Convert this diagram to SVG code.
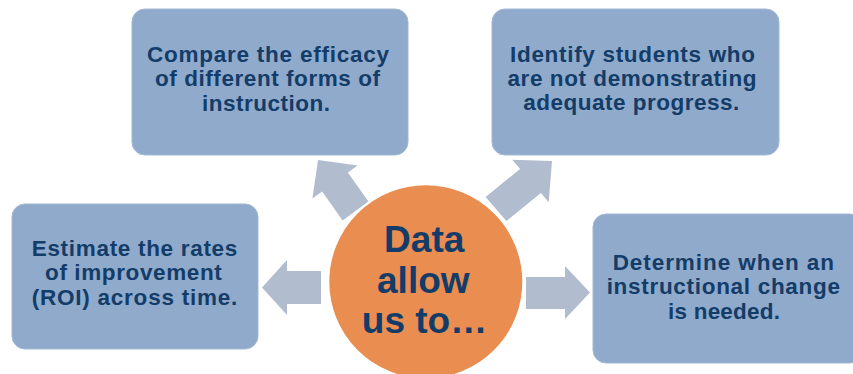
<svg xmlns="http://www.w3.org/2000/svg" width="853" height="374" viewBox="0 0 853 374">
<style>
.box{fill:#8FAACB;stroke:#A3B8D4;stroke-width:1}
.arr{fill:#B1BDCF}
.t{font-family:"Liberation Sans",Arial,sans-serif;font-weight:bold;font-size:22.5px;fill:#133C68;text-anchor:middle}
.c{font-family:"Liberation Sans",Arial,sans-serif;font-weight:bold;font-size:37px;fill:#133C68;text-anchor:middle}
</style>
<rect width="853" height="374" fill="#ffffff"/>
<g id="connectors">
<polygon class="arr" points="318,160 357.6,165.4 347.9,172.5 368.4,201.5 342.6,220.5 322.1,191.5 312.4,198.6"/>
<polygon class="arr" points="552,161 548.7,202.3 540.9,193.1 506.4,221.1 485.6,196.9 520.1,168.9 512.3,159.7"/>
<polygon class="arr" points="262,287.5 287,260 287,271 321,271 321,304 287,304 287,315"/>
<polygon class="arr" points="590,292.5 565,266 565,277 526,277 526,309 565,309 565,319"/>
</g>
<g id="node-compare">
<rect class="box" x="132" y="9" width="276" height="146" rx="13"/>
<text class="t" x="268" y="61.5" textLength="242" lengthAdjust="spacing">Compare the efficacy</text>
<text class="t" x="267.5" y="86" textLength="225" lengthAdjust="spacing">of different forms of</text>
<text class="t" x="266" y="110.5" textLength="128" lengthAdjust="spacing">instruction.</text>
</g>
<g id="node-identify">
<rect class="box" x="492" y="9" width="287" height="146" rx="13"/>
<text class="t" x="632.5" y="62" textLength="245" lengthAdjust="spacing">Identify students who</text>
<text class="t" x="632" y="86" textLength="249" lengthAdjust="spacing">are not demonstrating</text>
<text class="t" x="631.3" y="110" textLength="216" lengthAdjust="spacing">adequate progress.</text>
</g>
<g id="node-estimate">
<rect class="box" x="12" y="204" width="246" height="145" rx="13"/>
<text class="t" x="134.5" y="255.5" textLength="205.6" lengthAdjust="spacing">Estimate the rates</text>
<text class="t" x="133.4" y="280" textLength="176.7" lengthAdjust="spacing">of improvement</text>
<text class="t" x="134.5" y="305" textLength="205.6" lengthAdjust="spacing">(ROI) across time.</text>
</g>
<g id="node-determine">
<rect class="box" x="593" y="214" width="270" height="149" rx="13"/>
<text class="t" x="723.3" y="269.5" textLength="221.3" lengthAdjust="spacing">Determine when an</text>
<text class="t" x="723.3" y="294" textLength="233.3" lengthAdjust="spacing">instructional change</text>
<text class="t" x="724" y="318.5" textLength="112" lengthAdjust="spacing">is needed.</text>
</g>
<g id="node-center">
<circle cx="425.8" cy="281.8" r="97.5" fill="#E98D51" stroke="#ffffff" stroke-width="2"/>
<text class="c" x="424.2" y="252">Data</text>
<text class="c" x="423.3" y="292.5">allow</text>
<text class="c" x="424.5" y="333">us to…</text>
</g>
</svg>
